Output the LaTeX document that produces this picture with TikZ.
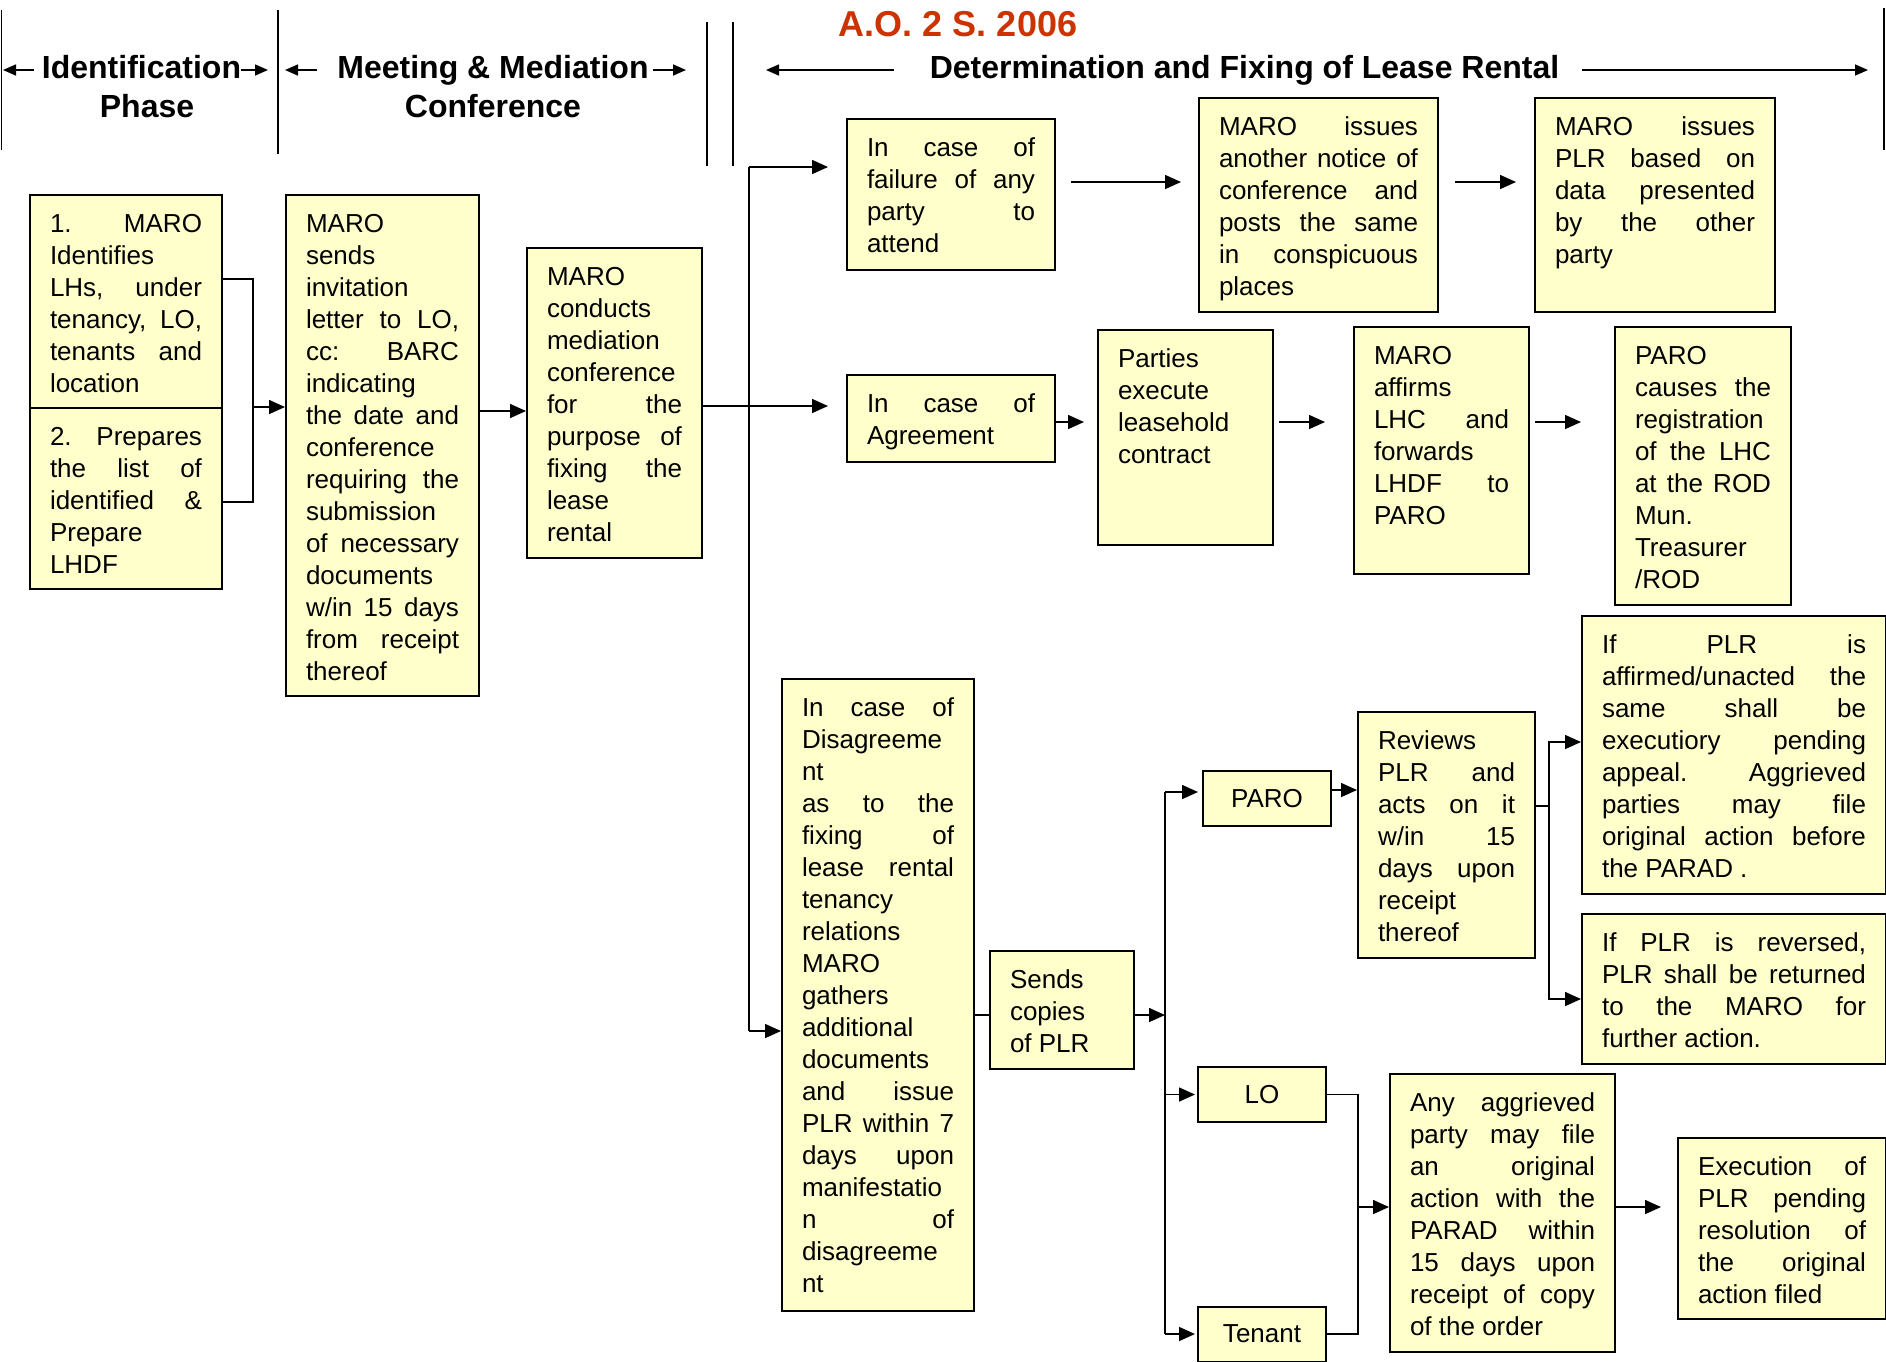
\documentclass[tikz,border=0pt]{standalone}
\usepackage{fontspec}
\setmainfont{Liberation Sans}
\usetikzlibrary{arrows.meta,positioning}

\definecolor{boxfill}{RGB}{255,255,204}
\definecolor{aored}{RGB}{204,51,0}

% top aligned, justified text of a box: width, height, text
\newcommand{\boxtext}[3]{\parbox[t][#2pt][t]{#1pt}{\tolerance=10000\hbadness=10000\hyphenpenalty=10000\strut #3}}
\newcommand{\jl}{\unskip\linebreak\ignorespaces}

\begin{document}
\begin{tikzpicture}[x=1pt,y=-1pt,
  box/.style={draw,line width=2pt,fill=boxfill,anchor=north west,inner xsep=20pt,inner ysep=14.6pt,font=\fontsize{26}{32}\selectfont},
  smallbox/.style={draw,line width=2pt,fill=boxfill,minimum width=128pt,minimum height=55pt,inner sep=0pt,font=\fontsize{26}{32}\selectfont},
  phase/.style={anchor=base,inner sep=0pt,font=\fontsize{32}{38}\selectfont\bfseries},
  divider/.style={line width=1.6pt},
  link/.style={line width=1.6pt},
  flow/.style={line width=1.6pt,-{Triangle[length=16pt,width=14pt]}},
  hflow/.style={line width=1.6pt,-{Triangle[length=13pt,width=11pt]}}]
\useasboundingbox (0,0) rectangle (1886,1361);

% header
\draw[divider] (1.5,10) -- (1.5,150);
\draw[divider] (278,10) -- (278,154);
\draw[divider] (707,22) -- (707,166);
\draw[divider] (733,22) -- (733,166);
\draw[divider] (1884,8) -- (1884,150);

\node[anchor=base,inner sep=0pt,text=aored,font=\fontsize{36}{42}\selectfont\bfseries] at (958,36) (aotitle) {A.O. 2 S. 2006};

\node[phase] at (141.5,78) (identhd) {Identification};
\node[phase] at (147,117) (identhd2) {Phase};
\node[phase] at (493,78) (meethd) {Meeting \& Mediation};
\node[phase] at (493,117) (meethd2) {Conference};
\node[phase] at (1244.5,78) (dethd) {Determination and Fixing of Lease Rental};

\coordinate (idleft) at (3,70);
\coordinate (idright) at (268,70);
\coordinate (meetleft) at (285,70);
\coordinate (meetright) at (686,70);
\coordinate (detleft) at (766,70);
\coordinate (detright) at (1868,70);
\draw[hflow,shorten <=8pt] (identhd.west |- idleft) -- (idleft);
\draw[hflow] (identhd.east |- idright) -- (idright);
\draw[hflow,shorten <=20pt] (meethd.west |- meetleft) -- (meetleft);
\draw[hflow,shorten <=4pt] (meethd.east |- meetright) -- (meetright);
\draw[hflow,shorten <=36pt] (dethd.west |- detleft) -- (detleft);
\draw[hflow,shorten <=23pt] (dethd.east |- detright) -- (detright);

% identification and meeting
\node[box] at (29,194) (id1) {\boxtext{152}{185}{1. MARO\jl Identifies\jl LHs, under\jl tenancy, LO,\jl tenants and\jl location}};
\node[box] at (29,407) (id2) {\boxtext{152}{152}{2. Prepares\jl the list of\jl identified \&\jl Prepare\jl LHDF}};
\node[box] at (285,194) (sends) {\boxtext{153}{472}{MARO\jl sends\jl invitation\jl letter to LO,\jl cc: BARC\jl indicating\jl the date and\jl conference\jl requiring the\jl submission\jl of necessary\jl documents\jl w/in 15 days\jl from receipt\jl thereof}};
\node[box] at (526,247) (conducts) {\boxtext{135}{281}{MARO\jl conducts\jl mediation\jl conference\jl for the\jl purpose of\jl fixing the\jl lease\jl rental}};

% determination
\node[box] at (846,118) (failure) {\boxtext{168}{122}{In case of\jl failure of any\jl party to\jl attend}};
\node[box] at (1198,97) (another) {\boxtext{199}{185}{MARO issues\jl another notice of\jl conference and\jl posts the same\jl in conspicuous\jl places}};
\node[box] at (1534,97) (plr) {\boxtext{200}{185}{MARO issues\jl PLR based on\jl data presented\jl by the other\jl party}};

\node[box] at (846,374) (agree) {\boxtext{168}{58}{In case of\jl Agreement}};
\node[box] at (1097,329) (parties) {\boxtext{135}{186}{Parties\jl execute\jl leasehold\jl contract}};
\node[box] at (1353,326) (affirms) {\boxtext{135}{218}{MARO\jl affirms\jl LHC and\jl forwards\jl LHDF to\jl PARO}};
\node[box] at (1614,326) (causes) {\boxtext{136}{249}{PARO\jl causes the\jl registration\jl of the LHC\jl at the ROD\jl Mun.\jl Treasurer\jl /ROD}};

\node[box] at (781,678) (disagree) {\boxtext{152}{603}{In case of\jl Disagreeme\jl nt\par as to the\jl fixing of\jl lease rental\jl tenancy\jl relations\jl MARO\jl gathers\jl additional\jl documents\jl and issue\jl PLR within 7\jl days upon\jl manifestatio\jl n of\jl disagreeme\jl nt}};
\node[box] at (989,950) (sendplr) {\boxtext{104}{89}{Sends\jl copies\jl of PLR}};

\node[smallbox] at (1267,798.5) (paro) {PARO};
\node[smallbox] at (1262,1094.5) (lo) {LO};
\node[smallbox] at (1262,1334) (tenant) {Tenant};

\node[box] at (1357,711) (reviews) {\boxtext{137}{217}{Reviews\jl PLR and\jl acts on it\jl w/in 15\jl days upon\jl receipt\jl thereof}};
\node[box] at (1581,615) (affirmed) {\boxtext{264}{249}{If PLR is\jl affirmed/unacted the\jl same shall be\jl executiory pending\jl appeal. Aggrieved\jl parties may file\jl original action before\jl the PARAD .}};
\node[box] at (1581,913) (reversed) {\boxtext{264}{121}{If PLR is reversed,\jl PLR shall be returned\jl to the MARO for\jl further action.}};
\node[box] at (1389,1073) (anyfile) {\boxtext{185}{249}{Any aggrieved\jl party may file\jl an original\jl action with the\jl PARAD within\jl 15 days upon\jl receipt of copy\jl of the order}};
\node[box] at (1677,1137) (exec) {\boxtext{168}{152}{Execution of\jl PLR pending\jl resolution of\jl the original\jl action filed}};

% connectors
\coordinate (idjoin) at (253,407);
\draw[link] (id1.east |- 0,279) -| (idjoin) |- (id2.east |- 0,502);
\draw[flow] (idjoin) -- (sends.west |- idjoin);
\draw[flow] (sends.east |- 0,411) -- (conducts.west |- 0,411);

\coordinate (trunktop) at (749,167);
\coordinate (trunkmid) at (749,406);
\coordinate (trunkbot) at (749,1031);
\draw[link] (conducts.east |- trunkmid) -- (trunkmid);
\draw[link] (trunktop) -- (trunkbot);
\draw[flow,shorten >=18pt] (trunktop) -- (failure.west |- trunktop);
\draw[flow,shorten >=18pt] (trunkmid) -- (agree.west |- trunkmid);
\draw[flow] (trunkbot) -- (disagree.west |- trunkbot);

\draw[flow,shorten <=15pt,shorten >=17pt] (failure.east |- 0,182) -- (another.west |- 0,182);
\draw[flow,shorten <=16pt,shorten >=18pt] (another.east |- 0,182) -- (plr.west |- 0,182);

\draw[flow,shorten >=13pt] (agree.east |- 0,422) -- (parties.west |- 0,422);
\draw[flow,shorten <=5pt,shorten >=28pt] (parties.east |- 0,422) -- (affirms.west |- 0,422);
\draw[flow,shorten <=5pt,shorten >=33pt] (affirms.east |- 0,422) -- (causes.west |- 0,422);

\coordinate (splitjoin) at (1165,1015);
\coordinate (splittop) at (1165,792);
\coordinate (splitbot) at (1165,1334);
\draw[link] (disagree.east |- splitjoin) -- (sendplr.west |- splitjoin);
\draw[flow] (sendplr.east |- splitjoin) -- (splitjoin);
\draw[link] (splittop) -- (splitbot);
\draw[flow,shorten >=4pt] (splittop) -- (paro.west |- splittop);
\draw[flow,shorten >=2pt] (splittop |- lo.west) -- (lo.west);
\draw[flow,shorten >=2pt] (splitbot) -- (tenant.west);

\draw[flow] (paro.east |- 0,790) -- (reviews.west |- 0,790);
\coordinate (revjoin) at (1549,806);
\draw[link] (reviews.east |- revjoin) -- (revjoin);
\draw[flow] (revjoin) |- (affirmed.west |- 0,742);
\draw[flow] (revjoin) |- (reversed.west |- 0,999);

\coordinate (anyjoin) at (1358,1207);
\draw[link] (lo.east) -| (anyjoin);
\draw[link] (tenant.east) -| (anyjoin);
\draw[flow] (anyjoin) -- (anyfile.west |- anyjoin);
\draw[flow,shorten >=16pt] (anyfile.east |- anyjoin) -- (exec.west |- anyjoin);
\end{tikzpicture}
\end{document}
